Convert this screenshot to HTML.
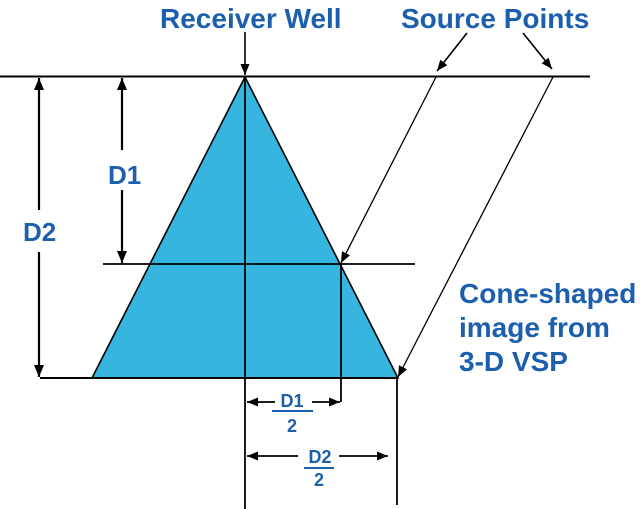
<!DOCTYPE html>
<html><head><meta charset="utf-8"><style>
html,body{margin:0;padding:0;background:#fff;}
svg{display:block;}
text{font-family:"Liberation Sans",Arial,sans-serif;font-weight:bold;fill:#1c60ad;}
</style></head><body>
<svg width="640" height="509" viewBox="0 0 640 509" xmlns="http://www.w3.org/2000/svg">
<defs>
<marker id="a" viewBox="0 0 12 10" refX="12" refY="5" markerWidth="12" markerHeight="10" markerUnits="userSpaceOnUse" orient="auto">
<path d="M0,0 L12,5 L0,10 z" fill="#000"/>
</marker>
<marker id="s" viewBox="0 0 11 9" refX="11" refY="4.5" markerWidth="11" markerHeight="9" markerUnits="userSpaceOnUse" orient="auto">
<path d="M0,0 L11,4.5 L0,9 z" fill="#000"/>
</marker>
</defs>
<!-- cone -->
<polygon points="245,77 92,378 398,378" fill="#36b5df" stroke="#000" stroke-width="1.6" stroke-linejoin="miter"/>
<!-- top line -->
<line x1="0" y1="76.5" x2="590" y2="76.5" stroke="#000" stroke-width="2"/>
<!-- bottom line -->
<line x1="40" y1="378" x2="398" y2="378" stroke="#000" stroke-width="2"/>
<!-- middle line -->
<line x1="103" y1="264" x2="415" y2="264" stroke="#000" stroke-width="1.8"/>
<!-- center vertical -->
<line x1="245" y1="77" x2="245" y2="509" stroke="#000" stroke-width="1.8"/>
<!-- D1 vertical -->
<line x1="341" y1="264" x2="341" y2="402" stroke="#000" stroke-width="1.8"/>
<!-- D2 vertical -->
<line x1="397" y1="378" x2="397" y2="505" stroke="#000" stroke-width="1.8"/>
<!-- receiver arrow -->
<line x1="245" y1="32" x2="245" y2="75" stroke="#000" stroke-width="1.6" marker-end="url(#s)"/>
<!-- source arrows -->
<line x1="467" y1="33" x2="437" y2="71" stroke="#000" stroke-width="1.6" marker-end="url(#s)"/>
<line x1="523" y1="33" x2="552" y2="69" stroke="#000" stroke-width="1.6" marker-end="url(#s)"/>
<!-- slanted rays -->
<line x1="436" y1="77" x2="341" y2="263" stroke="#000" stroke-width="1.3" marker-end="url(#s)"/>
<line x1="553" y1="77" x2="398" y2="377" stroke="#000" stroke-width="1.3" marker-end="url(#s)"/>
<!-- D2 dimension -->
<line x1="39" y1="210" x2="39" y2="78" stroke="#000" stroke-width="2.2" marker-end="url(#a)"/>
<line x1="39" y1="252" x2="39" y2="377" stroke="#000" stroke-width="2.2" marker-end="url(#a)"/>
<!-- D1 dimension -->
<line x1="122" y1="150" x2="122" y2="78" stroke="#000" stroke-width="2.2" marker-end="url(#a)"/>
<line x1="122" y1="190" x2="122" y2="263" stroke="#000" stroke-width="2.2" marker-end="url(#a)"/>
<!-- D1/2 arrows -->
<line x1="275" y1="402" x2="247" y2="402" stroke="#000" stroke-width="1.8" marker-end="url(#s)"/>
<line x1="312" y1="402" x2="340" y2="402" stroke="#000" stroke-width="1.8" marker-end="url(#s)"/>
<!-- D2/2 arrows -->
<line x1="298" y1="456" x2="247" y2="456" stroke="#000" stroke-width="1.8" marker-end="url(#s)"/>
<line x1="339" y1="456" x2="388" y2="456" stroke="#000" stroke-width="1.8" marker-end="url(#s)"/>
<!-- fraction lines -->
<line x1="272" y1="411" x2="313" y2="411" stroke="#1c60ad" stroke-width="2"/>
<line x1="304" y1="468" x2="334" y2="468" stroke="#1c60ad" stroke-width="2"/>
<!-- labels -->
<text x="160" y="28" font-size="28">Receiver Well</text>
<text x="401" y="28" font-size="28">Source Points</text>
<text x="108" y="184" font-size="26">D1</text>
<text x="23" y="241" font-size="26">D2</text>
<text x="459" y="303" font-size="28">Cone-shaped</text>
<text x="459" y="337" font-size="28">image from</text>
<text x="459" y="371" font-size="28">3-D VSP</text>
<text x="292" y="407" font-size="18" text-anchor="middle">D1</text>
<text x="292" y="432" font-size="18" text-anchor="middle">2</text>
<text x="320" y="463" font-size="18" text-anchor="middle">D2</text>
<text x="319" y="486" font-size="18" text-anchor="middle">2</text>
</svg>
</body></html>
